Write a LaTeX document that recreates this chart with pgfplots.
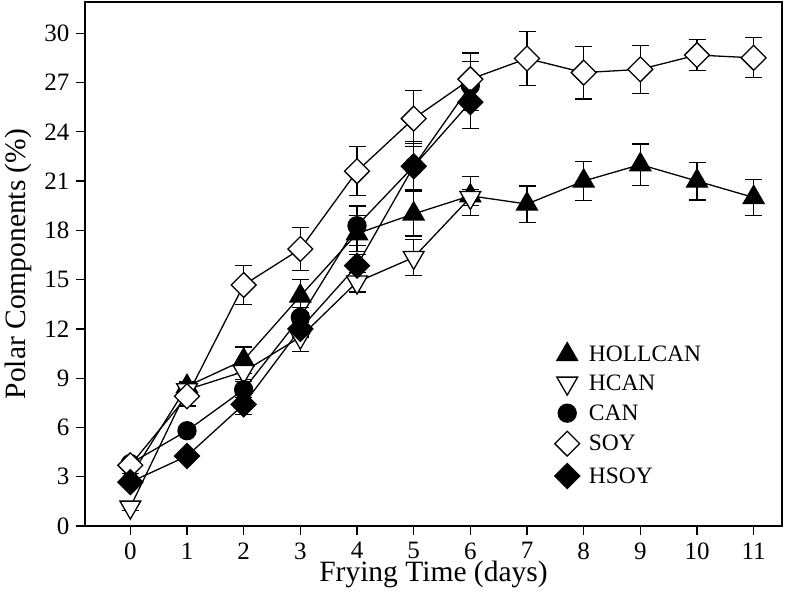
\documentclass[border=0pt]{standalone}
\usepackage{fontspec}
\setmainfont{Liberation Serif}
\usepackage{pgfplots}
\pgfplotsset{compat=1.18}

\begin{document}
\begin{tikzpicture}
\begin{axis}[
    scale only axis,
    width=697pt, height=524pt,
    xmin=-0.8, xmax=11.5,
    ymin=0, ymax=31.9,
    xtick={0,1,2,3,4,5,6,7,8,9,10,11},
    ytick={0,3,6,9,12,15,18,21,24,27,30},
    xtick pos=bottom, ytick pos=left,
    tick align=outside,
    major tick length=9pt,
    axis line style={line width=1.6pt},
    tick style={line width=1.3pt, black},
    /pgf/number format/assume math mode=true,
    ticklabel style={font=\fontsize{25}{28}\selectfont},
    xticklabel style={yshift=-4pt},
    yticklabel style={xshift=-3pt},
    xlabel={Frying Time (days)},
    ylabel={Polar Components (\%)},
    label style={font=\fontsize{29.5}{32}\selectfont},
    xlabel style={at={(axis description cs:0.5,0)}, anchor=center, yshift=-48pt},
    ylabel style={at={(axis description cs:0,0.5)}, anchor=center, yshift=67pt},
    legend style={draw=none, fill=none, at={(axis cs:7.43,11.3)}, anchor=north west,
        font=\fontsize{23.5}{26}\selectfont, row sep=7.5pt},
    legend cell align=left,
    legend image code/.code={\draw[#1] plot coordinates {(12pt,0pt)}; \path (0pt,0pt) (31pt,0pt);},
    every axis plot/.append style={line width=1.3pt, black},
    error bars/y dir=both, error bars/y explicit,
    error bars/error bar style={line width=1.2pt},
    error bars/error mark options={rotate=90, mark size=8.5pt, line width=1.2pt},
]

% HOLLCAN
\addplot[mark=triangle*, mark size=12pt, mark options={fill=black, solid}]
    coordinates {
    (0,3.0) +- (0,0.2)
    (1,8.5) +- (0,0.3)
    (2,10.1) +- (0,0.8)
    (3,14.0) +- (0,1.0)
    (4,17.8) +- (0,1.1)
    (5,19.0) +- (0,1.35)
    (6,20.1) +- (0,1.2)
    (7,19.6) +- (0,1.1)
    (8,21.0) +- (0,1.2)
    (9,22.0) +- (0,1.25)
    (10,21.0) +- (0,1.15)
    (11,20.0) +- (0,1.1)
    };
% HCAN
\addplot[mark=triangle*, mark size=12pt, mark options={fill=white, rotate=180, solid}]
    coordinates {
    (0,1.15) +- (0,0.2)
    (1,8.3) +- (0,0.4)
    (2,9.4) +- (0,0.5)
    (3,11.5) +- (0,0.9)
    (4,14.85) +- (0,0.6)
    (5,16.35) +- (0,1.1)
    (6,20.0) +- (0,0.5)
    };
% CAN
\addplot[mark=*, mark size=9pt, mark options={fill=black, solid}]
    coordinates {
    (0,3.8) +- (0,0.2)
    (1,5.8) +- (0,0.25)
    (2,8.3) +- (0,0.5)
    (3,12.7) +- (0,0.6)
    (4,18.28) +- (0,1.2)
    (5,21.9) +- (0,1.5)
    (6,26.8) +- (0,1.5)
    };
% SOY
\addplot[mark=square*, mark size=8.8pt, mark options={fill=white, rotate=45, solid}]
    coordinates {
    (0,3.7) +- (0,0.2)
    (1,7.9) +- (0,0.6)
    (2,14.67) +- (0,1.2)
    (3,16.86) +- (0,1.3)
    (4,21.6) +- (0,1.5)
    (5,24.8) +- (0,1.7)
    (6,27.2) +- (0,1.6)
    (7,28.46) +- (0,1.65)
    (8,27.6) +- (0,1.6)
    (9,27.8) +- (0,1.45)
    (10,28.67) +- (0,0.96)
    (11,28.5) +- (0,1.22)
    };
% HSOY
\addplot[mark=square*, mark size=8.8pt, mark options={fill=black, rotate=45, solid}]
    coordinates {
    (0,2.67) +- (0,0.2)
    (1,4.26) +- (0,0.2)
    (2,7.4) +- (0,0.6)
    (3,12.0) +- (0,0.5)
    (4,15.85) +- (0,0.7)
    (5,21.9) +- (0,1.4)
    (6,25.8) +- (0,1.6)
    };
\legend{HOLLCAN, HCAN, CAN, SOY, HSOY}
\end{axis}
\path (-85pt,-78pt) rectangle (701pt,526pt);
\end{tikzpicture}
\end{document}
